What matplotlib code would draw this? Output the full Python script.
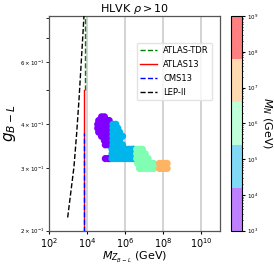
import numpy as np
import matplotlib
matplotlib.use('Agg')
import matplotlib.pyplot as plt
from matplotlib.colors import LogNorm, ListedColormap
from matplotlib.ticker import NullLocator, NullFormatter

# ---------------- data ----------------
# scan points: log10(M_Z' / GeV), g_{B-L}, log10(M_N / GeV)
purple_logmz = [4.75, 4.9,
                4.6, 4.75, 4.9, 5.05, 5.15,
                4.55, 4.7, 4.85, 5.0, 5.15,
                4.55, 4.7, 4.85, 5.0, 5.15,
                4.6, 4.75, 4.9, 5.05, 5.2,
                4.75, 4.9, 5.05, 5.2,
                4.9, 5.05, 5.2,
                4.95, 5.1, 5.2,
                4.95, 5.1, 5.2]
purple_g = [0.42, 0.42,
            0.41, 0.41, 0.41, 0.41, 0.41,
            0.40, 0.40, 0.40, 0.40, 0.40,
            0.39, 0.39, 0.39, 0.39, 0.39,
            0.38, 0.38, 0.38, 0.38, 0.38,
            0.37, 0.37, 0.37, 0.37,
            0.36, 0.36, 0.36,
            0.35, 0.35, 0.35,
            0.32, 0.32, 0.32]
purple_logmn = 3.6

blue_logmz = [5.35, 5.5,
              5.35, 5.5, 5.6,
              5.35, 5.5, 5.7,
              5.35, 5.5, 5.65, 5.85,
              5.35, 5.5, 5.7,
              5.35, 5.5, 5.65, 5.85,
              5.3, 5.45, 5.6, 5.75, 5.9, 6.05, 6.2, 6.35, 6.45,
              5.3, 5.45, 5.6, 5.75, 5.9, 6.05, 6.2, 6.35, 6.45,
              5.3, 5.45, 5.6, 5.75, 5.9, 6.05, 6.2, 6.35, 6.45]
blue_g = [0.40, 0.40,
          0.39, 0.39, 0.39,
          0.38, 0.38, 0.38,
          0.37, 0.37, 0.37, 0.37,
          0.36, 0.36, 0.36,
          0.35, 0.35, 0.35, 0.35,
          0.34, 0.34, 0.34, 0.34, 0.34, 0.34, 0.34, 0.34, 0.34,
          0.33, 0.33, 0.33, 0.33, 0.33, 0.33, 0.33, 0.33, 0.33,
          0.32, 0.32, 0.32, 0.32, 0.32, 0.32, 0.32, 0.32, 0.32]
blue_logmn = 4.8

green_logmz = [6.6, 6.75, 6.9,
               6.6, 6.75, 6.9, 7.05,
               6.6, 6.75, 6.9, 7.05, 7.2,
               6.65, 6.8, 6.95, 7.1, 7.25, 7.4, 7.5,
               6.75, 6.9, 7.05, 7.2, 7.35, 7.5]
green_g = [0.34, 0.34, 0.34,
           0.33, 0.33, 0.33, 0.33,
           0.32, 0.32, 0.32, 0.32, 0.32,
           0.31, 0.31, 0.31, 0.31, 0.31, 0.31, 0.31,
           0.30, 0.30, 0.30, 0.30, 0.30, 0.30]
green_logmn = 6.0

orange_logmz = [7.8, 7.95, 8.1, 8.2,
                7.8, 7.95, 8.1, 8.2]
orange_g = [0.31, 0.31, 0.31, 0.31,
            0.30, 0.30, 0.30, 0.30]
orange_logmn = 7.2

# experimental bounds
atlas_tdr_mz = [7300, 7300]
atlas_tdr_g = [0.50, 0.85]
atlas13_mz = [7100, 7100]
atlas13_g = [0.19, 0.50]
cms13_mz = [6900, 6900]
cms13_g = [0.19, 0.377]
lep_logmz = [2.966, 3.297, 3.439, 3.56, 3.665, 3.77, 3.835]
lep_g = [0.218, 0.303, 0.377, 0.468, 0.581, 0.722, 0.83]

# ---------------- plot ----------------
plt.rcParams['font.family'] = ['DejaVu Sans']
fig = plt.figure(figsize=(2.74, 2.65), dpi=100)
ax = fig.add_axes([0.18, 0.1294, 0.624, 0.8102])
cax = fig.add_axes([0.843, 0.1294, 0.039, 0.8102])

cmap = plt.get_cmap('rainbow', 5)
norm = LogNorm(1e3, 1e9)
light = cmap(np.arange(5))
light[:, :3] = 0.5 * light[:, :3] + 0.5
light_cmap = ListedColormap(light)

ax.grid(True, which='major', color='#cccccc', lw=1.2, zorder=0)
ax.set_axisbelow(True)

for lmz, gg, lmn in [(purple_logmz, purple_g, purple_logmn),
                     (blue_logmz, blue_g, blue_logmn),
                     (green_logmz, green_g, green_logmn),
                     (orange_logmz, orange_g, orange_logmn)]:
    mz = 10.0 ** np.array(lmz)
    mn = np.full(len(lmz), 10.0 ** lmn)
    ax.scatter(mz, gg, c=mn, cmap=cmap, norm=norm, s=27, edgecolors='none', zorder=2)

ax.plot(atlas_tdr_mz, atlas_tdr_g, color='green', ls='--', lw=1.0, label='ATLAS-TDR', zorder=3)
ax.plot(atlas13_mz, atlas13_g, color='red', ls='-', lw=1.0, label='ATLAS13', zorder=3)
ax.plot(cms13_mz, cms13_g, color='blue', ls='--', lw=1.0, label='CMS13', zorder=4)
ax.plot(10.0 ** np.array(lep_logmz), lep_g, color='black', ls='--', lw=1.0, label='LEP-II', zorder=3)

ax.set_xscale('log')
ax.set_yscale('log')
ax.set_xlim(1e2, 1e11)
ax.set_ylim(0.2, 0.81)
ax.set_xticks([1e2, 1e4, 1e6, 1e8, 1e10])
ax.xaxis.set_minor_locator(NullLocator())
ax.tick_params(axis='x', labelsize=7, length=2.5, pad=1.5)
ax.tick_params(axis='y', which='both', labelsize=4, length=2, pad=1.5)
for s in ax.spines.values():
    s.set_color('#555555')
    s.set_linewidth(0.9)

ax.set_title(r'HLVK $\rho > 10$', fontsize=8, pad=3)
ax.set_xlabel(r'$M_{Z_{B-L}}$ (GeV)', fontsize=8, labelpad=0)
ax.set_ylabel(r'$g_{B-L}$', fontsize=11, labelpad=1)

leg = ax.legend(loc='upper right', bbox_to_anchor=(0.953, 0.876), borderaxespad=0,
                fontsize=6, handlelength=2.0, labelspacing=0.6, frameon=True,
                fancybox=True, framealpha=0.8, edgecolor='#dddddd')

sm = plt.cm.ScalarMappable(norm=norm, cmap=light_cmap)
cb = fig.colorbar(sm, cax=cax)
cb.ax.tick_params(which='major', labelsize=4, length=2, pad=1.5)
cb.ax.tick_params(which='minor', length=1)
cb.ax.yaxis.set_minor_formatter(NullFormatter())
cb.outline.set_linewidth(0.8)
cb.set_label(r'$M_N$ (GeV)', fontsize=8, rotation=270, labelpad=11)

fig.savefig('out.png', dpi=100)
